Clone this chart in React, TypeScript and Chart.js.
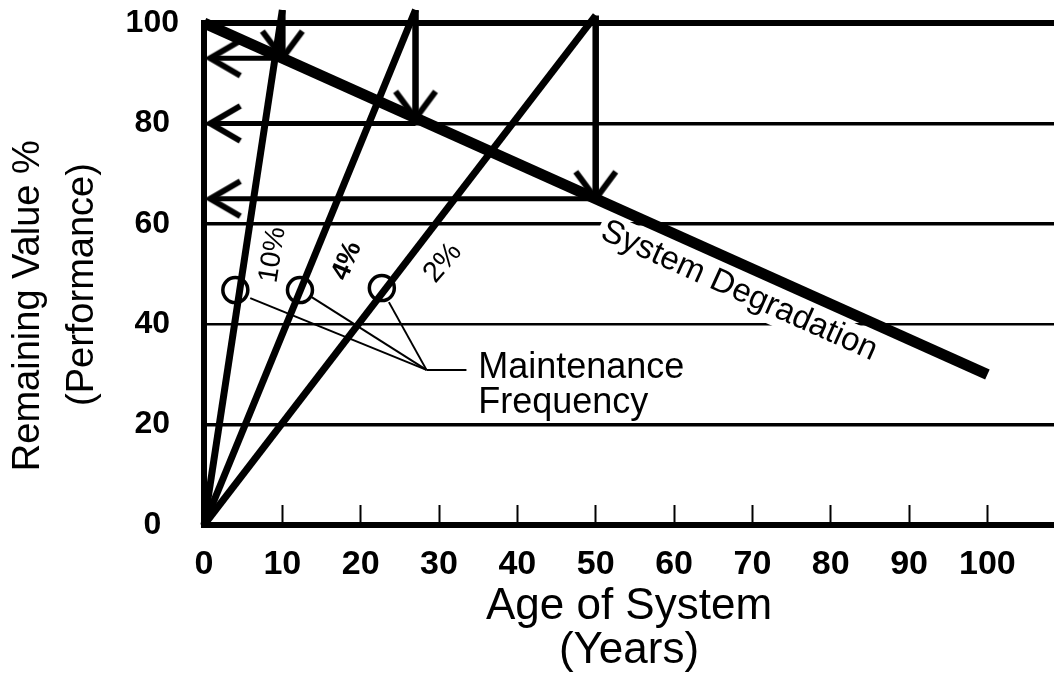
import React, { useEffect, useRef } from "react";
import { Chart, registerables } from "chart.js";

Chart.register(...registerables);

// ---------- data ----------
const xTickValues = [0, 10, 20, 30, 40, 50, 60, 70, 80, 90, 100];
const yTickValues = [0, 20, 40, 60, 80, 100];
const xAxisTitle = ["Age of System", "(Years)"];
// trailing spaces only nudge each centred line along the axis, as in the original
const yAxisTitle = ["Remaining Value %      ", "(Performance)  "];

// System degradation line (age, remaining value)
const degradationAge = [0, 100];
const degradationValue = [100, 30];

// Maintenance frequency lines, rising from the origin
const frequencyLabels = ["10%", "4%", "2%"];
const frequencyEndAge = [10, 27, 50];
const frequencyEndValue = [102.6, 102.6, 101.5];

// Renewal arrows: drop from the top to the degradation line, then back to the axis
const arrowAge = [10, 27, 50];
const arrowTopValue = [102.6, 102.6, 101.5];
const arrowDropValue = [93, 81, 65];
const arrowReturnValue = [93, 80, 65];
const arrowReturnAge = 0.8;

// Maintenance frequency circles
const circleAge = [4.0, 12.25, 22.7];
const circleValue = [46.8, 46.8, 47.2];

// Leader lines from the circles to the "Maintenance Frequency" caption
const leaderStartAge = [5.9, 13.75, 23.6];
const leaderStartValue = [45.2, 45.4, 44.4];
const leaderJoinAge = [28.4];
const leaderJoinValue = [30.9];
const leaderEndAge = [33.5];

// Annotation texts (positions in data units)
const textLabels = [
  { text: frequencyLabels[0], x: 8.8, y: 53.8, rotation: -81, size: 28 },
  { text: frequencyLabels[1], x: 18.25, y: 52.6, rotation: -67, size: 27, weight: "bold" },
  { text: frequencyLabels[2], x: 30.5, y: 52.2, rotation: -49, size: 29 },
  { text: "System Degradation", x: 68.3, y: 46.6, rotation: 24.2, size: 33, bg: true },
  { text: "Maintenance", x: 35.0, y: 29.3, rotation: 0, size: 36, align: "left", baseline: "alphabetic" },
  { text: "Frequency", x: 35.0, y: 22.4, rotation: 0, size: 36, align: "left", baseline: "alphabetic" },
];

const FONT = '"Liberation Sans", Arial, Helvetica, sans-serif';

function makeChevron(dir: "left" | "down"): HTMLCanvasElement {
  const c = document.createElement("canvas");
  const lw = 6;
  const ax = dir === "left" ? 30 : 20;
  const ay = dir === "left" ? 17.5 : 27;
  c.width = Math.ceil(2 * (ax + lw));
  c.height = Math.ceil(2 * (ay + lw));
  const ctx = c.getContext("2d") as CanvasRenderingContext2D;
  const cx = c.width / 2, cy = c.height / 2;
  ctx.strokeStyle = "#000";
  ctx.lineWidth = lw;
  ctx.lineCap = "butt";
  ctx.lineJoin = "miter";
  ctx.beginPath();
  if (dir === "left") {
    ctx.moveTo(cx + ax, cy - ay);
    ctx.lineTo(cx, cy);
    ctx.lineTo(cx + ax, cy + ay);
  } else {
    ctx.moveTo(cx - ax, cy - ay);
    ctx.lineTo(cx, cy);
    ctx.lineTo(cx + ax, cy - ay);
  }
  ctx.stroke();
  return c;
}

function drawLabels(chart: any, bgPass: boolean) {
  const { ctx, scales } = chart;
  const xs = scales.x, ys = scales.y;
  textLabels.forEach((l: any) => {
    if (!!l.bg !== bgPass) return;
    const px = xs.getPixelForValue(l.x);
    const py = ys.getPixelForValue(l.y);
    ctx.save();
    ctx.translate(px, py);
    ctx.rotate((l.rotation * Math.PI) / 180);
    ctx.font = `${l.weight || "normal"} ${l.size}px ${FONT}`;
    ctx.textAlign = l.align || "center";
    ctx.textBaseline = l.baseline || "middle";
    if (l.bg) {
      const w = ctx.measureText(l.text).width;
      ctx.fillStyle = "#fff";
      ctx.fillRect(-w / 2 - 4, -l.size * 0.55, w + 8, l.size * 1.1);
    }
    ctx.fillStyle = "#000";
    ctx.fillText(l.text, 0, 0);
    ctx.restore();
  });
}

const labelPlugin = {
  id: "annotationLabels",
  beforeDatasetsDraw(chart: any) {
    drawLabels(chart, true);
  },
  afterDatasetsDraw(chart: any) {
    drawLabels(chart, false);
  },
};

export default function App() {
  const canvasRef = useRef<HTMLCanvasElement | null>(null);

  useEffect(() => {
    document.body.style.margin = "0";
    document.body.style.overflow = "hidden";
    const canvas = canvasRef.current;
    if (!canvas) return;

    const leftChevron = makeChevron("left");
    const downChevron = makeChevron("down");

    const lineBase = {
      showLine: true,
      borderColor: "#000",
      backgroundColor: "#000",
      pointRadius: 0,
      pointHoverRadius: 0,
      clip: false as const,
      borderCapStyle: "butt" as const,
      borderJoinStyle: "miter" as const,
    };

    const datasets: any[] = [];

    datasets.push({
      ...lineBase,
      label: "System Degradation",
      data: degradationAge.map((a, i) => ({ x: a, y: degradationValue[i] })),
      borderWidth: 11,
    });

    frequencyLabels.forEach((lab, i) => {
      datasets.push({
        ...lineBase,
        label: lab,
        data: [
          { x: 0, y: 0 },
          { x: frequencyEndAge[i], y: frequencyEndValue[i] },
        ],
        borderWidth: 7,
      });
    });

    arrowAge.forEach((a, i) => {
      datasets.push({
        ...lineBase,
        label: "drop " + frequencyLabels[i],
        data: [
          { x: a, y: arrowTopValue[i] },
          { x: a, y: arrowDropValue[i] },
        ],
        borderWidth: 6.5,
        pointRadius: [0, 10],
        pointStyle: ["circle", downChevron],
      });
      datasets.push({
        ...lineBase,
        label: "return " + frequencyLabels[i],
        data: [
          { x: a, y: arrowReturnValue[i] },
          { x: arrowReturnAge, y: arrowReturnValue[i] },
        ],
        borderWidth: 5,
        pointRadius: [0, 10],
        pointStyle: ["circle", leftChevron],
      });
    });

    datasets.push({
      label: "Maintenance Frequency",
      data: circleAge.map((a, i) => ({ x: a, y: circleValue[i] })),
      showLine: false,
      pointStyle: "circle",
      pointRadius: 12.5,
      pointHoverRadius: 12.5,
      pointBorderWidth: 3.5,
      pointBorderColor: "#000",
      pointBackgroundColor: "rgba(0,0,0,0)",
      clip: false,
    });

    leaderStartAge.forEach((a, i) => {
      datasets.push({
        ...lineBase,
        label: "leader " + i,
        data: [
          { x: a, y: leaderStartValue[i] },
          { x: leaderJoinAge[0], y: leaderJoinValue[0] },
        ],
        borderWidth: 2,
      });
    });
    datasets.push({
      ...lineBase,
      label: "leader tail",
      data: [
        { x: leaderJoinAge[0], y: leaderJoinValue[0] },
        { x: leaderEndAge[0], y: leaderJoinValue[0] },
      ],
      borderWidth: 2,
    });

    const chart = new Chart(canvas, {
      type: "scatter",
      data: { datasets },
      plugins: [labelPlugin],
      options: {
        animation: false,
        responsive: false,
        maintainAspectRatio: false,
        events: [],
        layout: { autoPadding: false, padding: { top: 23, left: 0, right: 0, bottom: 0 } },
        plugins: {
          legend: { display: false },
          tooltip: { enabled: false },
        },
        scales: {
          x: {
            type: "linear",
            min: 0,
            max: 108.5,
            afterBuildTicks: (scale: any) => {
              scale.ticks = xTickValues.map((v) => ({ value: v }));
            },
            afterFit: (scale: any) => {
              scale.height = 155;
              scale.paddingLeft = 0;
              scale.paddingRight = 0;
            },
            border: { display: true, color: "#000", width: 6 },
            grid: {
              drawOnChartArea: false,
              drawTicks: true,
              tickLength: -20,
              tickWidth: 2,
              tickColor: "#000",
            },
            ticks: {
              color: "#000",
              padding: 39,
              maxRotation: 0,
              autoSkip: false,
              font: { family: FONT, size: 34, weight: "bold" },
            },
            title: {
              display: true,
              text: xAxisTitle,
              color: "#000",
              font: { family: FONT, size: 44, lineHeight: 0.98 },
              padding: { top: 0, bottom: 8 },
            },
          },
          y: {
            type: "linear",
            min: 0,
            max: 100,
            afterBuildTicks: (scale: any) => {
              scale.ticks = yTickValues.map((v) => ({ value: v }));
            },
            afterFit: (scale: any) => {
              scale.width = 204;
              scale.paddingTop = 0;
              scale.paddingBottom = 0;
            },
            border: { display: true, color: "#000", width: 6 },
            grid: {
              drawTicks: false,
              color: (c: any) => (c.tick && c.tick.value === 0 ? "rgba(0,0,0,0)" : "#000"),
              lineWidth: (c: any) => {
                const v = c.tick ? c.tick.value : 0;
                if (v === 100) return 6;
                if (v === 40) return 2.5;
                return 3.5;
              },
            },
            ticks: {
              color: "#000",
              padding: 25,
              crossAlign: "center",
              font: { family: FONT, size: 32, weight: "bold" },
            },
            title: {
              display: true,
              text: yAxisTitle,
              color: "#000",
              font: { family: FONT, size: 38, lineHeight: 1.42 },
              padding: { top: 2, bottom: 0 },
            },
          },
        },
      } as any,
    });

    return () => {
      chart.destroy();
    };
  }, []);

  return (
    <div style={{ width: 1054, height: 680, background: "#fff" }}>
      <canvas ref={canvasRef} width={1054} height={680} style={{ display: "block" }} />
    </div>
  );
}
